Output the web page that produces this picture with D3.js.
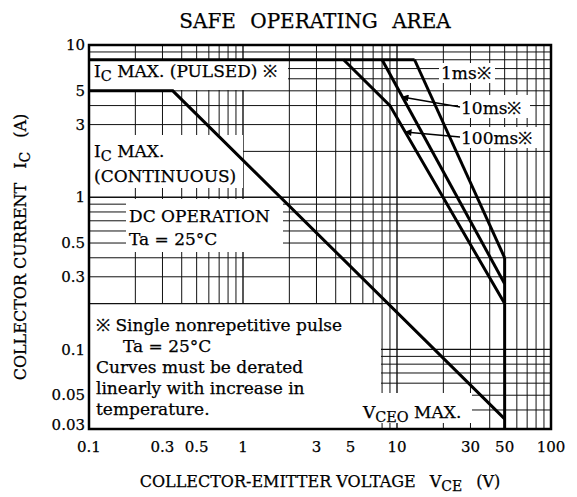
<!DOCTYPE html>
<html>
<head>
<meta charset="utf-8">
<script src="https://cdn.jsdelivr.net/npm/d3@7"></script>
<style>
body { margin: 0; background: #fff; }
text { font-family: "DejaVu Serif", serif; fill: #000; stroke: #000; stroke-width: 0.25px; }
</style>
</head>
<body>
<script>
// tick labels
const xTicks = [0.1, 0.3, 0.5, 1, 3, 5, 10, 30, 50, 100];
const yTicks = [0.03, 0.05, 0.1, 0.3, 0.5, 1, 3, 5, 10];

// curves (V, A)
const dcCurve = [[0.1, 5], [0.35, 5], [50, 0.035]];
const pulsedMax = [[0.1, 8], [13, 8]];
const curve1ms = [[13, 8], [50, 0.4]];
const curve10ms = [[8, 8], [50, 0.27]];
const curve100ms = [[4.5, 8], [9, 4], [50, 0.2]];
const vceoMax = [[50, 0.4], [50, 0.03]];

const width = 577, height = 497;
const fs = 17;

const svg = d3.select("body").append("svg")
    .attr("width", width)
    .attr("height", height);

const x = d3.scaleLog().domain([0.1, 100]).range([89, 551]);
const y = d3.scaleLog().domain([0.03, 10]).range([429, 45]);

svg.append("defs").append("marker")
    .attr("id", "arrow")
    .attr("viewBox", "0 0 10 10")
    .attr("refX", 9).attr("refY", 5)
    .attr("markerWidth", 8).attr("markerHeight", 7)
    .attr("markerUnits", "userSpaceOnUse")
    .attr("orient", "auto")
    .append("path")
    .attr("d", "M0,0L10,5L0,10z")
    .attr("fill", "#000");

// title
svg.append("text")
    .attr("x", 315).attr("y", 28)
    .attr("text-anchor", "middle")
    .style("font-size", "20px")
    .style("word-spacing", "8px")
    .text("SAFE OPERATING AREA");

// grid: every 1..9 per decade
const grid = svg.append("g");
const isDecade = v => Math.abs(Math.log10(v) - Math.round(Math.log10(v))) < 1e-6;

grid.selectAll(".vx")
    .data(x.ticks().filter(v => v > 0.1 && v < 100))
    .enter().append("line")
    .attr("x1", d => x(d)).attr("x2", d => x(d))
    .attr("y1", y(10)).attr("y2", y(0.03))
    .attr("stroke", "#111")
    .attr("stroke-width", d => isDecade(d) ? 1.4 : 1);

grid.selectAll(".hy")
    .data(y.ticks().filter(v => v > 0.03 && v < 10))
    .enter().append("line")
    .attr("y1", d => y(d)).attr("y2", d => y(d))
    .attr("x1", x(0.1)).attr("x2", x(100))
    .attr("stroke", "#111")
    .attr("stroke-width", d => isDecade(d) ? 1.4 : 1);

// white boxes behind labels
const masks = [
  [90, 61, 198, 29],    // pulsed
  [90, 135, 153, 53],   // continuous
  [126, 199, 157, 53],  // dc operation
  [90, 304, 291, 124],  // note
  [360, 393, 112, 30],  // vceo
  [439, 63, 56, 20],    // 1ms
  [458, 95, 72, 23],    // 10ms
  [458, 127, 80, 21]    // 100ms
];
svg.append("g").selectAll("rect")
    .data(masks)
    .enter().append("rect")
    .attr("x", d => d[0]).attr("y", d => d[1])
    .attr("width", d => d[2]).attr("height", d => d[3])
    .attr("fill", "#fff");

// note box top edge
svg.append("line")
    .attr("x1", x(0.1)).attr("x2", x(8))
    .attr("y1", y(0.2)).attr("y2", y(0.2))
    .attr("stroke", "#111").attr("stroke-width", 1.4);

// frame
svg.append("rect")
    .attr("x", x(0.1)).attr("y", y(10))
    .attr("width", x(100) - x(0.1))
    .attr("height", y(0.03) - y(10))
    .attr("fill", "none")
    .attr("stroke", "#000")
    .attr("stroke-width", 2.5);

// curves
const line = d3.line().x(d => x(d[0])).y(d => y(d[1]));
[dcCurve, pulsedMax, curve1ms, curve10ms, curve100ms, vceoMax].forEach(c => {
  svg.append("path")
      .attr("d", line(c))
      .attr("fill", "none")
      .attr("stroke", "#000")
      .attr("stroke-width", 3)
      .attr("stroke-linejoin", "miter");
});

// arrows to 10ms / 100ms curves
svg.append("line")
    .attr("x1", 460).attr("y1", 107).attr("x2", x(10.8)).attr("y2", 97)
    .attr("stroke", "#000").attr("stroke-width", 1.5)
    .attr("marker-end", "url(#arrow)");
svg.append("line")
    .attr("x1", 460).attr("y1", 137).attr("x2", x(11.3)).attr("y2", 132)
    .attr("stroke", "#000").attr("stroke-width", 1.5)
    .attr("marker-end", "url(#arrow)");

// axis tick labels
svg.append("g").selectAll("text")
    .data(xTicks)
    .enter().append("text")
    .attr("x", d => x(d)).attr("y", 452)
    .attr("text-anchor", "middle")
    .style("font-size", "15px")
    .text(d => d);

svg.append("g").selectAll("text")
    .data(yTicks)
    .enter().append("text")
    .attr("x", 85)
    .attr("y", d => d === 0.03 ? y(d) - 4 : y(d))
    .attr("dy", "0.35em")
    .attr("text-anchor", "end")
    .style("font-size", "15px")
    .text(d => d);

// label helper with subscript
function subLabel(g, px, py, pre, sub, post, size) {
  const t = g.append("text").attr("x", px).attr("y", py).style("font-size", size + "px");
  t.append("tspan").text(pre);
  t.append("tspan").attr("dy", 4).style("font-size", (size * 0.85) + "px").text(sub);
  t.append("tspan").attr("dy", -4).text(post);
  return t;
}

subLabel(svg, 94, 77, "I", "C", " MAX. (PULSED) ※", fs);
subLabel(svg, 94, 157, "I", "C", " MAX.", fs);
svg.append("text").attr("x", 94).attr("y", 182).style("font-size", fs + "px").text("(CONTINUOUS)");
svg.append("text").attr("x", 129).attr("y", 222).style("font-size", fs + "px").text("DC OPERATION");
svg.append("text").attr("x", 129).attr("y", 245).style("font-size", fs + "px").text("Ta = 25°C");

svg.append("text").attr("x", 441).attr("y", 79).style("font-size", fs + "px").text("1ms※");
svg.append("text").attr("x", 461).attr("y", 114).style("font-size", fs + "px").text("10ms※");
svg.append("text").attr("x", 461).attr("y", 144).style("font-size", fs + "px").text("100ms※");

const noteLines = [
  [96, "※ Single nonrepetitive pulse"],
  [123, "Ta = 25°C"],
  [96, "Curves must be derated"],
  [96, "linearly with increase in"],
  [96, "temperature."]
];
svg.append("g").selectAll("text")
    .data(noteLines)
    .enter().append("text")
    .attr("x", d => d[0])
    .attr("y", (d, i) => 331 + i * 21)
    .style("font-size", fs + "px")
    .text(d => d[1]);

subLabel(svg, 363, 418, "V", "CEO", " MAX.", fs);

// axis titles
const xt = svg.append("text")
    .attr("x", 320).attr("y", 487)
    .attr("text-anchor", "middle")
    .style("font-size", "16px");
xt.append("tspan").text("COLLECTOR-EMITTER VOLTAGE");
xt.append("tspan").attr("dx", 14).text("V");
xt.append("tspan").attr("dy", 4).style("font-size", "14px").text("CE");
xt.append("tspan").attr("dy", -4).attr("dx", 14).text("(V)");

const yt = svg.append("text")
    .attr("transform", "translate(26,247) rotate(-90)")
    .attr("text-anchor", "middle")
    .style("font-size", "16px");
yt.append("tspan").text("COLLECTOR CURRENT");
yt.append("tspan").attr("dx", 14).text("I");
yt.append("tspan").attr("dy", 4).style("font-size", "14px").text("C");
yt.append("tspan").attr("dy", -4).attr("dx", 14).text("(A)");
</script>
</body>
</html>
